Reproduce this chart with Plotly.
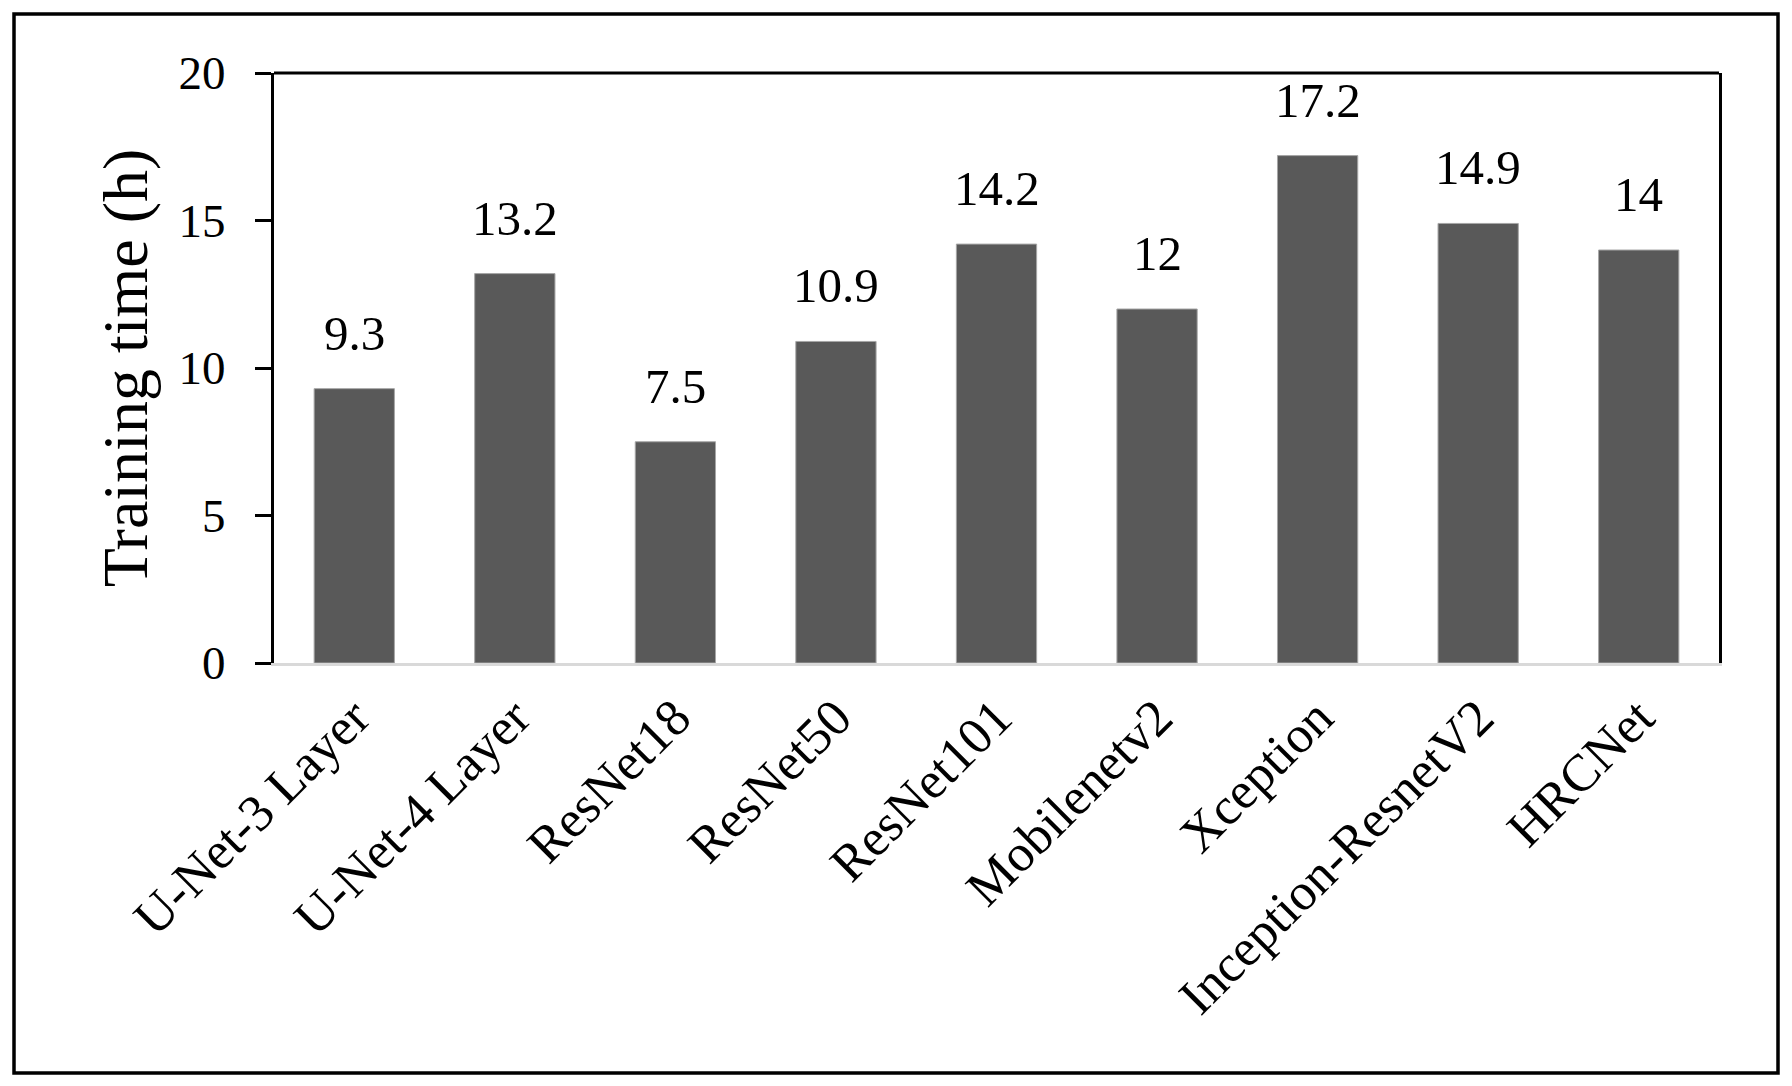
import plotly.graph_objects as go

categories = ["U-Net-3 Layer", "U-Net-4 Layer", "ResNet18", "ResNet50", "ResNet101",
              "Mobilenetv2", "Xception", "Inception-ResnetV2", "HRCNet"]
training_hours = [9.3, 13.2, 7.5, 10.9, 14.2, 12, 17.2, 14.9, 14]
value_labels = ["9.3", "13.2", "7.5", "10.9", "14.2", "12", "17.2", "14.9", "14"]
y_ticks = [0, 5, 10, 15, 20]

FONT = "Liberation Serif, Times New Roman, serif"
OFF = 8  # default page body margin
W, H = 1792 - OFF, 1086 - OFF
L, R, T, B = 274 - OFF, 1719 - OFF, 73 - OFF, 663 - OFF  # plot area in px

fig = go.Figure()
fig.add_trace(go.Bar(
    x=categories, y=training_hours,
    marker=dict(color="#595959", line=dict(color="#a6a6a6", width=1)),
    hoverinfo="x+y",
))

for c, v, lab in zip(categories, training_hours, value_labels):
    fig.add_annotation(x=c, y=v, text=lab, showarrow=False, yanchor="bottom",
                       yshift=26, font=dict(family=FONT, size=49, color="black"))

pw, ph = R - L, B - T
def px_x(p):
    return (p - OFF - L) / pw
def px_y(p):
    return (B - (p - OFF)) / ph

shapes = [
    dict(type="line", xref="paper", yref="paper", x0=0, x1=1, y0=1, y1=1,
         line=dict(color="black", width=3)),
    dict(type="rect", xref="paper", yref="paper",
         x0=px_x(14), x1=px_x(1778), y0=px_y(1073), y1=px_y(14),
         line=dict(color="black", width=3.5), fillcolor="rgba(0,0,0,0)"),
]

fig.update_layout(
    width=W, height=H,
    margin=dict(l=L, r=W - R, t=T, b=H - B),
    paper_bgcolor="white", plot_bgcolor="white",
    showlegend=False, bargap=0.5,
    shapes=shapes,
    font=dict(family=FONT, color="black"),
)
fig.update_xaxes(
    type="category", showline=True, linecolor="#d9d9d9", linewidth=3,
    ticks="", tickangle=-45, tickfont=dict(family=FONT, size=52, color="black"),
    ticklabelstandoff=0, showgrid=False, zeroline=False, automargin=False,
)
fig.update_yaxes(
    range=[0, 20], tickvals=y_ticks, showline=True, linecolor="black", linewidth=3,
    mirror=True, ticks="outside", ticklen=16, tickwidth=3, tickcolor="black",
    tickfont=dict(family=FONT, size=47, color="black"), ticklabelstandoff=20,
    showgrid=False, zeroline=False, automargin=False,
    title=dict(text="Training time (h)", font=dict(family=FONT, size=64, color="black"),
               standoff=11),
)

fig.write_html("out.html")
